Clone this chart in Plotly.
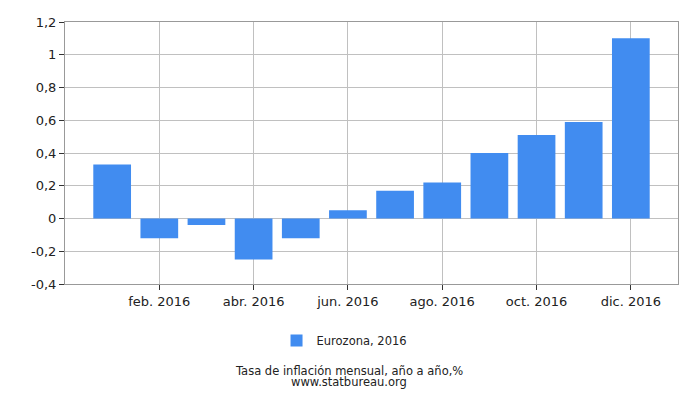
import plotly.graph_objects as go

# Monthly inflation, Eurozone 2016 (year over year, %)
months = list(range(1, 13))
values = [0.33, -0.12, -0.04, -0.25, -0.12, 0.05, 0.17, 0.22, 0.40, 0.51, 0.59, 1.10]

x_tick_vals = [2, 4, 6, 8, 10, 12]
x_tick_text = ["feb. 2016", "abr. 2016", "jun. 2016", "ago. 2016", "oct. 2016", "dic. 2016"]
y_tick_vals = [-0.4, -0.2, 0, 0.2, 0.4, 0.6, 0.8, 1, 1.2]
y_tick_text = ["-0,4", "-0,2", "0", "0,2", "0,4", "0,6", "0,8", "1", "1,2"]

fig = go.Figure()
fig.add_trace(go.Bar(
    x=months,
    y=values,
    width=0.8,
    marker=dict(color="#418cf0", line=dict(width=0)),
    name="Eurozona, 2016",
))

axis_font = dict(family="DejaVu Sans", size=13, color="#222")
small_font = dict(family="DejaVu Sans", size=11.5, color="#222")

# the page body adds an 8px offset, margins are reduced to compensate
top, bottom = 14, 124
plot_h = 400 - top - bottom
plot_bottom = 400 - bottom

fig.update_layout(
    width=700, height=400,
    margin=dict(l=57, r=30, t=top, b=bottom, autoexpand=False),
    plot_bgcolor="white",
    paper_bgcolor="white",
    showlegend=True,
    legend=dict(orientation="h", x=0.456, xanchor="center", y=-0.16, yanchor="top",
                font=small_font),
    xaxis=dict(
        range=[0, 13], tickvals=x_tick_vals, ticktext=x_tick_text,
        showgrid=True, gridcolor="#c0c0c0", gridwidth=1,
        ticks="outside", ticklen=5, tickcolor="#333",
        showline=True, linecolor="#999", mirror=True,
        tickfont=axis_font, zeroline=False, automargin=False,
    ),
    yaxis=dict(
        range=[-0.4, 1.2], tickvals=y_tick_vals, ticktext=y_tick_text,
        showgrid=True, gridcolor="#c0c0c0", gridwidth=1,
        ticks="outside", ticklen=5, tickcolor="#333",
        showline=True, linecolor="#999", mirror=True,
        tickfont=axis_font, zeroline=False, automargin=False,
    ),
)

fig.add_annotation(text="Tasa de inflación mensual, año a año,%", x=0.463, xref="paper",
                   y=-(363 - plot_bottom) / plot_h, yref="paper", yanchor="middle",
                   showarrow=False, font=small_font)
fig.add_annotation(text="www.statbureau.org", x=0.463, xref="paper",
                   y=-(374 - plot_bottom) / plot_h, yref="paper", yanchor="middle",
                   showarrow=False, font=small_font)

fig.write_html("out.html")
